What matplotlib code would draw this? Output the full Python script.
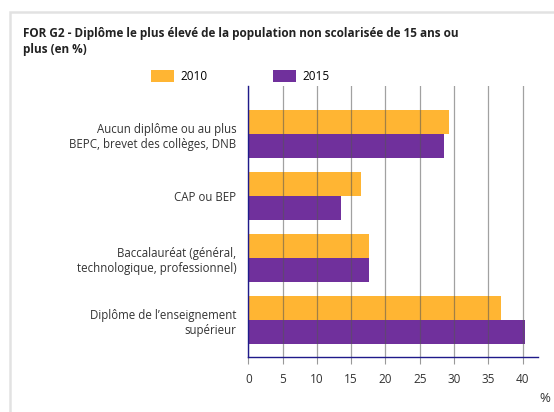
import matplotlib.pyplot as plt
import numpy as np
from matplotlib.patches import Rectangle

plt.rcParams['font.family'] = ['Open Sans', 'DejaVu Sans']

categories = [
    "Aucun diplôme ou au plus\nBEPC, brevet des collèges, DNB",
    "CAP ou BEP",
    "Baccalauréat (général,\ntechnologique, professionnel)",
    "Diplôme de l\u2019enseignement\nsupérieur",
]
values_2010 = [29.3, 16.5, 17.6, 36.8]
values_2015 = [28.5, 13.5, 17.6, 40.4]
xticks = [0, 5, 10, 15, 20, 25, 30, 35, 40]

ORANGE = "#FFB533"
PURPLE = "#70309C"
NAVY = "#1F1A8A"

fig = plt.figure(figsize=(5.54, 4.12), dpi=100)
ax = fig.add_axes([0.4482, 0.1342, 0.5224, 0.6571])

y = np.arange(len(categories))
h = 0.387
ax.barh(y - h / 2, values_2010, height=h, color=ORANGE, label="2010", zorder=2)
ax.barh(y + h / 2, values_2015, height=h, color=PURPLE, label="2015", zorder=2)

ax.set_xlim(0, 42.2)
ax.set_ylim(3.59, -0.775)
ax.set_xticks(xticks)
ax.set_yticks(y)
ax.set_yticklabels(categories, fontsize=8.3, color="#333333")
ax.tick_params(axis="y", length=0, pad=8.5)
ax.tick_params(axis="x", length=5, width=0.8, color="#999999", labelsize=8.5,
               labelcolor="#333333", pad=6.5)
ax.grid(axis="x", color="#555555", alpha=0.55, linewidth=0.9, zorder=3)
ax.set_axisbelow(False)
for s in ["top", "right"]:
    ax.spines[s].set_visible(False)
for s in ["left", "bottom"]:
    ax.spines[s].set_color(NAVY)
    ax.spines[s].set_linewidth(1.0)
    ax.spines[s].set_zorder(4)

ax.legend(ncol=2, loc="center", bbox_to_anchor=(0.434, 0.815), bbox_transform=fig.transFigure,
          frameon=False, fontsize=8.5, handlelength=1.95, handleheight=1.3,
          handletextpad=0.55, columnspacing=5.5)

fig.text(0.0415, 0.935, "FOR G2 - Diplôme le plus élevé de la population non scolarisée de 15 ans ou\nplus (en %)",
         fontsize=8.5, fontweight="bold", color="#222222", va="top", ha="left", linespacing=1.3)
fig.text(0.993, 0.018, "%", fontsize=9.5, color="#333333", ha="right", va="bottom")

fig.patches.append(Rectangle((0.0175, -0.05), 1.1, 1.02, transform=fig.transFigure,
                             fill=False, edgecolor="#e2e2e2", linewidth=1.8))

fig.savefig("out.png", dpi=100)
